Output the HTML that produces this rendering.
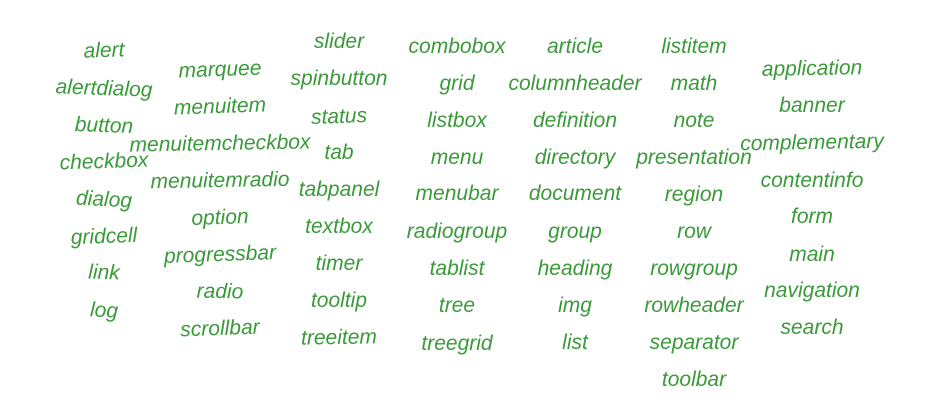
<!DOCTYPE html>
<html><head><meta charset="utf-8"><style>
body{margin:0;width:929px;height:412px;background:#fff;overflow:hidden;position:relative}
.w{position:absolute;transform:translate(-50%,-50%);font-family:"Liberation Sans",sans-serif;font-style:italic;font-size:21px;color:#3a9a3a;white-space:nowrap}
</style></head><body>
<script>
const cols=[
[104,[["alert",51,-2],["alertdialog",89,2],["button",126,2],["checkbox",162,-2],["dialog",200,3],["gridcell",237,-2],["link",273,2],["log",311,3]]],
[220,[["marquee",70,-2],["menuitem",107,-2],["menuitemcheckbox",144,-1],["menuitemradio",181,-1],["option",218,-2],["progressbar",255,-2],["radio",292,1],["scrollbar",329,-2]]],
[339,[["slider",42,0],["spinbutton",79,0],["status",117,-2],["tab",153,0],["tabpanel",190,0],["textbox",227,0],["timer",264,0],["tooltip",301,0],["treeitem",338,-1]]],
[457,[["combobox",47,0],["grid",84,0],["listbox",121,0],["menu",158,0],["menubar",194,0],["radiogroup",232,0],["tablist",269,0],["tree",306,0],["treegrid",344,0]]],
[575,[["article",47,0],["columnheader",84,0],["definition",121,0],["directory",158,0],["document",194,0],["group",232,0],["heading",269,0],["img",306,0],["list",343,0]]],
[694,[["listitem",47,0],["math",84,0],["note",121,0],["presentation",158,0],["region",195,0],["row",232,0],["rowgroup",269,0],["rowheader",306,0],["separator",343,0],["toolbar",380,0]]],
[812,[["application",69,-1],["banner",106,0],["complementary",143,-1],["contentinfo",181,0],["form",217,0],["main",255,0],["navigation",291,0],["search",328,0]]]
];
cols.forEach(([x,ws])=>ws.forEach(([t,y,r])=>{
const el=document.createElement('div');
el.className='w';
el.textContent=t;
el.style.left=x+'px';el.style.top=y+'px';
el.style.transform='translate(-50%,-50%) rotate('+r+'deg)';


document.body.appendChild(el);
}));
</script>
</body></html>
